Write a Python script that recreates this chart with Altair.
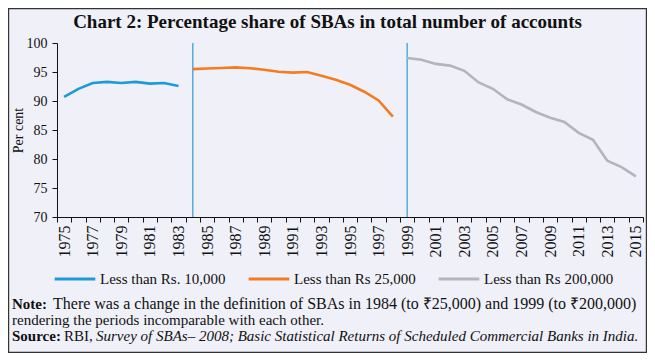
import altair as alt
import pandas as pd

# ---- data ----
years_blue = list(range(1975, 1984))
vals_blue = [90.7, 92.1, 93.1, 93.3, 93.1, 93.3, 93.0, 93.1, 92.6]
years_orange = list(range(1984, 1999))
vals_orange = [95.5, 95.6, 95.7, 95.8, 95.65, 95.4, 95.05, 94.9, 95.0, 94.35, 93.65, 92.8, 91.6, 90.1, 87.3]
years_gray = list(range(1999, 2016))
vals_gray = [97.4, 97.1, 96.4, 96.1, 95.2, 93.2, 92.1, 90.3, 89.4, 88.1, 87.1, 86.4, 84.5, 83.3, 79.7, 78.6, 77.0]
series_names = ["Less than Rs. 10,000", "Less than Rs 25,000", "Less than Rs 200,000"]
series_colors = ["#1f9ad8", "#f47c20", "#b4b4bb"]
break_years = [1984, 1999]
all_years = list(range(1975, 2016))
y_ticks = [70, 75, 80, 85, 90, 95, 100]

title_text = "Chart 2: Percentage share of SBAs in total number of accounts"
note_bold = "Note:"
note_line1 = "There was a change in the definition of SBAs in 1984 (to \u20b925,000) and 1999 (to \u20b9200,000)"
note_line2 = "rendering the periods incomparable with each other."
source_bold = "Source:"
source_plain = "RBI,"
source_italic = "Survey of SBAs\u2013 2008; Basic Statistical Returns of Scheduled Commercial Banks in India."

SERIF = "Liberation Serif"
BG = "#eff0f8"
INK = "#111111"

rows = []
for ys, vs, name in [(years_blue, vals_blue, series_names[0]),
                     (years_orange, vals_orange, series_names[1]),
                     (years_gray, vals_gray, series_names[2])]:
    for y, v in zip(ys, vs):
        rows.append({"year": y, "value": v, "series": name})
df = pd.DataFrame(rows)
breaks_df = pd.DataFrame({"year": break_years, "lo": [70] * len(break_years), "hi": [100] * len(break_years)})

xscale = alt.Scale(type="band", domain=all_years, paddingInner=0, paddingOuter=0)
yscale = alt.Scale(domain=[70, 100], nice=False, zero=False)

x_axis = alt.Axis(
    title=None, labelAngle=270, labelFont=SERIF, labelFontSize=16, labelColor=INK,
    labelPadding=3, tickSize=5, tickColor=INK, domainColor=INK, tickBand="extent",
    labelExpr="datum.value % 2 == 1 ? datum.label : ''", grid=False, labelOverlap=False,
)
y_axis = alt.Axis(
    title="Per cent", titleFont=SERIF, titleFontSize=14, titleFontWeight="normal", titleColor=INK,
    titlePadding=1, values=y_ticks, labelFont=SERIF, labelFontSize=14, labelColor=INK,
    labelPadding=5, tickSize=5, tickColor=INK, domainColor=INK, grid=False, labelOverlap=False,
)

lines = alt.Chart(df).mark_line(strokeWidth=2.6).encode(
    x=alt.X("year:O", scale=xscale, bandPosition=0.5, axis=x_axis),
    y=alt.Y("value:Q", scale=yscale, axis=y_axis),
    color=alt.Color(
        "series:N",
        scale=alt.Scale(domain=series_names, range=series_colors),
        legend=alt.Legend(
            title=None, orient="none", legendX=-4, legendY=214, direction="horizontal", columns=3,
            symbolType="stroke", symbolSize=1650, symbolStrokeWidth=3, labelFont=SERIF,
            labelFontSize=15, labelColor=INK, labelOffset=3, columnPadding=16, labelLimit=300,
        ),
    ),
)

rules = alt.Chart(breaks_df).mark_rule(color="#4aa6de", strokeWidth=1.4).encode(
    x=alt.X("year:O", scale=xscale, bandPosition=0.5, axis=x_axis),
    y=alt.Y("lo:Q", scale=yscale, axis=y_axis),
    y2="hi:Q",
)

def txt(s, x, y, weight="normal", style="normal", size=15, align="left"):
    return alt.Chart(pd.DataFrame({"t": [s]})).mark_text(
        align=align, baseline="middle", font=SERIF, fontSize=size, fontWeight=weight,
        fontStyle=style, color=INK,
    ).encode(text="t:N", x=alt.value(x), y=alt.value(y))

title = txt(title_text, 270.5, -21, weight="bold", size=19, align="center")

notes = (
    txt(note_bold, -45, 261, weight="bold")
    + txt(note_line1, -4, 261, size=16)
    + txt(note_line2, -45, 277)
    + txt(source_bold, -45, 293, weight="bold")
    + txt(source_plain, 7, 293)
    + txt(source_italic, 39, 293, style="italic", size=15)
)

border = alt.Chart(pd.DataFrame({"a": [0]})).mark_rect(
    fill="transparent", stroke="#333", strokeWidth=1.2
).encode(x=alt.value(-48.4), x2=alt.value(589.4), y=alt.value(-34.4), y2=alt.value(309.4))

chart = alt.layer(rules, lines, title, notes, border).properties(
    width=586, height=174,
    padding={"left": 49, "top": 35, "right": 4, "bottom": 136},
    autosize=alt.AutoSizeParams(type="none"),
    background=BG,
).configure_view(stroke=None)

chart.save("out.html", embed_options={"renderer": "svg", "actions": False})
